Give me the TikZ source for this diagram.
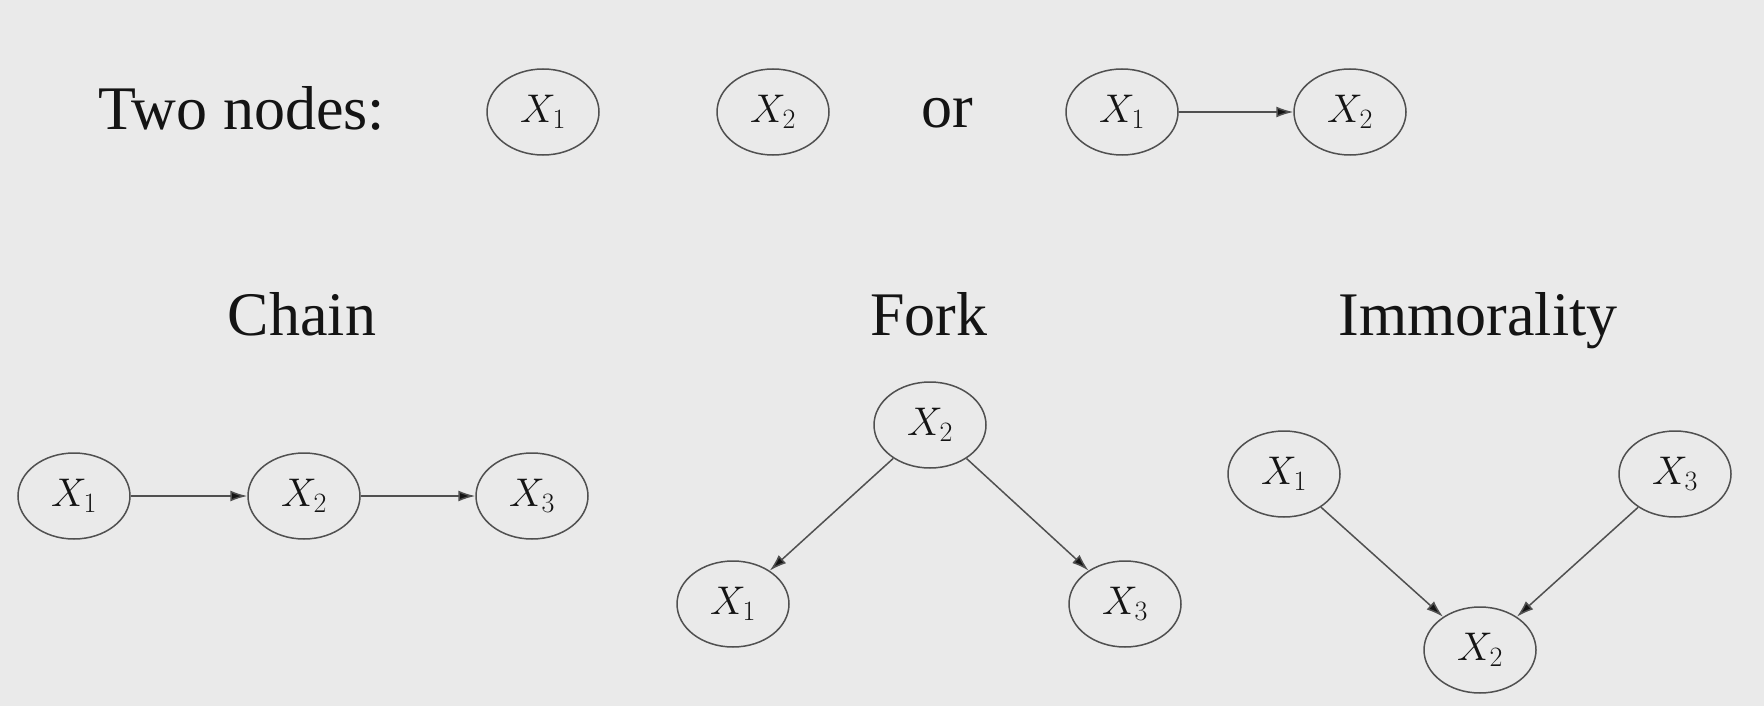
\RequirePackage{fix-cm}
\documentclass[tikz,border=0pt]{standalone}
\usepackage{fontspec}
\setmainfont{Liberation Serif}
\usetikzlibrary{shapes.geometric,arrows.meta}
\definecolor{bg}{RGB}{234,234,234}
\definecolor{edge}{RGB}{80,80,80}
\definecolor{ink}{RGB}{20,20,20}
\tikzset{
  var/.style={ellipse, draw=edge, line width=1.5pt, inner sep=0pt,
    minimum width=112pt, minimum height=86pt, text=ink,
    font=\fontsize{40}{41}\selectfont},
  link/.style={draw=edge, line width=1.5pt,
    -{Latex[length=17pt,width=11pt,fill=ink]}},
  label/.style={text=ink, font=\fontsize{62}{64}\selectfont, inner sep=0pt}
}
\begin{document}
\begin{tikzpicture}[x=1pt,y=-1pt]
  \fill[bg] (0,0) rectangle (1764,706);
  \useasboundingbox (0,0) rectangle (1764,706);

  % top row: two unconnected nodes, or one edge
  \node[label, anchor=base west] (two) at (98,130) {Two nodes:};
  \node[var] (a1) at (543,112) {$X_1$};
  \node[var] (a2) at (773,112) {$X_2$};
  \node[label, anchor=base] (or) at (947,128) {or};
  \node[var] (b1) at (1122,112) {$X_1$};
  \node[var] (b2) at (1350,112) {$X_2$};
  \draw[link] (b1) -- (b2);

  % section titles
  \node[label, anchor=base] (tchain) at (302,335) {Chain};
  \node[label, anchor=base] (tfork) at (929,335) {Fork};
  \node[label, anchor=base] (timm) at (1478,335) {Immorality};

  % chain
  \node[var] (c1) at (74,496) {$X_1$};
  \node[var] (c2) at (304,496) {$X_2$};
  \node[var] (c3) at (532,496) {$X_3$};
  \draw[link] (c1) -- (c2);
  \draw[link] (c2) -- (c3);

  % fork
  \node[var] (f2) at (930,425) {$X_2$};
  \node[var] (f1) at (733,604) {$X_1$};
  \node[var] (f3) at (1125,604) {$X_3$};
  \draw[link] (f2) -- (f1);
  \draw[link] (f2) -- (f3);

  % immorality (collider)
  \node[var] (m1) at (1284,474) {$X_1$};
  \node[var] (m3) at (1675,474) {$X_3$};
  \node[var] (m2) at (1480,650) {$X_2$};
  \draw[link] (m1) -- (m2);
  \draw[link] (m3) -- (m2);
\end{tikzpicture}
\end{document}
